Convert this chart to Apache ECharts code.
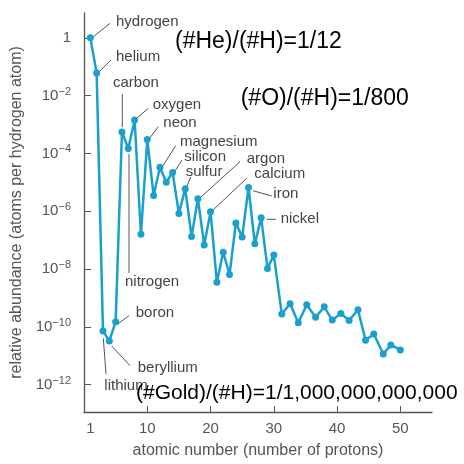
<!DOCTYPE html>
<html>
<head>
<meta charset="utf-8">
<script src="https://cdn.jsdelivr.net/npm/echarts@6/dist/echarts.min.js"></script>
<style>html,body{margin:0;padding:0;background:#fff}#c{width:464px;height:464px}</style>
</head>
<body>
<div id="c"></div>
<script>
// atomic number (position along x) and log10 of abundance relative to hydrogen
var atomicNumber = [1,2,3,4,5,6,7,8,9,10,11,12,13,14,15,16,17,18,19,20,21,22,23,24,25,26,27,28,29,30,
  31.26,32.57,33.87,35.2,36.6,37.97,39.23,40.6,41.9,43.3,44.5,45.8,47.3,48.5,50];
var log10Abundance = [0,-1.22,-10.15,-10.49,-9.83,-3.26,-3.83,-2.84,-6.8,-3.52,-5.46,-4.48,-5.0,-4.66,-6.08,-5.22,-6.88,-5.57,-7.17,-6.02,-8.46,-7.42,-8.19,-6.41,-6.89,-5.18,-7.13,-6.23,-7.98,-7.52,
  -9.56,-9.20,-9.86,-9.24,-9.67,-9.31,-9.77,-9.54,-9.78,-9.41,-10.47,-10.25,-10.94,-10.63,-10.8];
var xTickLabels = [1,10,20,30,40,50];
var xTicks = [10,20,30,40,50];
var yTickExponents = [0,-2,-4,-6,-8,-10,-12];

var annotations = [
  {t:'hydrogen', x:116, y:21.7, l:[92.7,37.3,110,23.3]},
  {t:'helium', x:116, y:57.3, l:[99.3,71.7,111,60]},
  {t:'carbon', x:113, y:83.3, l:[122.3,94,122.3,127]},
  {t:'oxygen', x:152.7, y:105, l:[136.7,118.3,148.3,108.3]},
  {t:'neon', x:163.3, y:122.7, l:[150,137.7,158.3,126.7]},
  {t:'magnesium', x:180, y:142.3, l:[162.3,166.7,175.7,145.7]},
  {t:'silicon', x:184.3, y:156.7, l:[175,171,182,160]},
  {t:'sulfur', x:185.7, y:171.7, l:[186.7,187,190.7,177]},
  {t:'argon', x:246.7, y:159.3, l:[201,197,240,161.7]},
  {t:'calcium', x:254.3, y:174.3, l:[213,210,246.7,178.3]},
  {t:'iron', x:273.3, y:194, l:[253,190.7,271.7,196]},
  {t:'nickel', x:280.7, y:219, l:[266.7,219.3,276,219.3]},
  {t:'nitrogen', x:125, y:281.7, l:[129,154,129,273]},
  {t:'boron', x:135.7, y:312.7, l:[117.3,324.3,129,315.7]},
  {t:'beryllium', x:137.7, y:368.3, l:[111.7,346,130,365.7]},
  {t:'lithium', x:104.3, y:385.7, l:[103.3,338.3,106,374]}
];
var bigTexts = [
  {t:'(#He)/(#H)=1/12', x:175, y:41.7, s:23},
  {t:'(#O)/(#H)=1/800', x:240.7, y:99, s:23},
  {t:'(#Gold)/(#H)=1/1,000,000,000,000', x:136, y:393.7, s:21}
];

var data = atomicNumber.map(function(z,i){return [z, log10Abundance[i]];});
var FONT = 'Liberation Sans, Arial, sans-serif';

var graphic = [];
annotations.forEach(function(a){
  graphic.push({type:'line', z:1, silent:true, shape:{x1:a.l[0],y1:a.l[1],x2:a.l[2],y2:a.l[3]}, style:{stroke:'#555', lineWidth:1}});
  graphic.push({type:'text', z:5, silent:true, x:a.x, y:a.y, style:{text:a.t, fill:'#444', font:'15px ' + FONT, textVerticalAlign:'middle', textAlign:'left'}});
});
bigTexts.forEach(function(b){
  graphic.push({type:'text', z:10, silent:true, x:b.x, y:b.y, style:{text:b.t, fill:'#000', font:b.s + 'px ' + FONT, textVerticalAlign:'middle', textAlign:'left'}});
});

var chart = echarts.init(document.getElementById('c'), null, {renderer:'canvas'});
chart.setOption({
  animation:false,
  backgroundColor:'#fff',
  grid:{left:84, right:32, top:13, bottom:48, containLabel:false},
  xAxis:{
    type:'value', min:0, max:55,
    name:'atomic number (number of protons)', nameLocation:'middle', nameGap:31,
    nameTextStyle:{fontSize:16, color:'#555', fontFamily:FONT},
    axisLine:{show:true, onZero:false, lineStyle:{color:'#555', width:1.3}},
    axisTick:{show:true, inside:true, length:6, lineStyle:{color:'#555'}, customValues:xTicks},
    axisLabel:{fontSize:15, color:'#555', fontFamily:FONT, margin:9, customValues:xTickLabels},
    splitLine:{show:false}
  },
  yAxis:{
    type:'value', min:-12.95, max:0.86,
    name:'relative abundance (atoms per hydrogen atom)', nameLocation:'middle', nameGap:58, nameRotate:90,
    nameTextStyle:{fontSize:16, color:'#555', fontFamily:FONT},
    axisLine:{show:true, onZero:false, lineStyle:{color:'#555', width:1.3}},
    axisTick:{show:true, inside:true, length:7, lineStyle:{color:'#555'}, customValues:yTickExponents},
    axisLabel:{
      margin:13, customValues:yTickExponents, color:'#555', fontFamily:FONT,
      formatter:function(v){ return v===0 ? '{b|1}' : '{b|10}{s|\u2212' + (-v) + '}'; },
      rich:{b:{fontSize:15, color:'#555', fontFamily:FONT, lineHeight:19}, s:{fontSize:11, color:'#555', fontFamily:FONT, verticalAlign:'top', lineHeight:12}}
    },
    splitLine:{show:false}
  },
  series:[{
    type:'line', data:data, z:3,
    lineStyle:{color:'#1aa0cf', width:2.5},
    itemStyle:{color:'#1aa0cf'},
    symbol:'circle', symbolSize:7, showAllSymbol:true
  }],
  graphic:graphic
});
</script>
</body>
</html>
